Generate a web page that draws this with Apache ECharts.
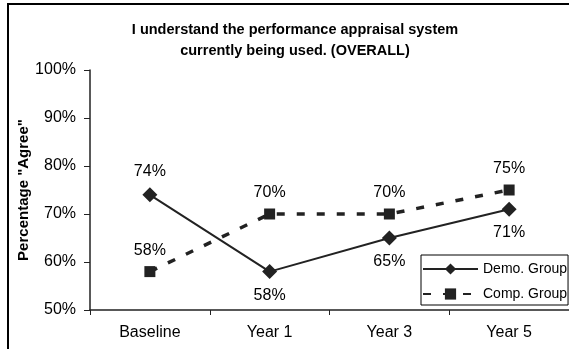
<!DOCTYPE html>
<html>
<head>
<meta charset="utf-8">
<script src="https://cdn.jsdelivr.net/npm/echarts@6/dist/echarts.min.js"></script>
<style>
  html, body { margin: 0; padding: 0; background: #fff; }
  #chart { width: 569px; height: 349px; }
</style>
</head>
<body>
<div id="chart"></div>
<script>
// Survey periods along the x axis
const periods = ['Baseline', 'Year 1', 'Year 3', 'Year 5'];
// Share answering "Agree", in percent
const demoGroup = [74, 58, 65, 71];
const compGroup = [58, 70, 70, 75];
// Y axis range and step, in percent
const yMin = 50, yMax = 100, yStep = 10;

// Which side of each point its value label sits on
const demoLabelSide = ['top', 'bottom', 'bottom', 'bottom'];
const compLabelSide = ['top', 'top', 'top', 'top'];

const FONT = '"Liberation Sans", Arial, sans-serif';
const INK = '#222';

function withLabels(values, sides) {
  return values.map((v, i) => ({ value: v, label: { position: sides[i] } }));
}

const chart = echarts.init(document.getElementById('chart'), null, { renderer: 'canvas' });

chart.setOption({
  animation: false,
  backgroundColor: '#fff',
  textStyle: { fontFamily: FONT },
  title: {
    text: 'I understand the performance appraisal system\ncurrently being used. (OVERALL)',
    left: 290,
    textAlign: 'center',
    top: 14,
    textStyle: { fontFamily: FONT, fontSize: 14.5, fontWeight: 'bold', color: '#000', lineHeight: 21 }
  },
  grid: { left: 90, top: 70, right: -1, bottom: 39, containLabel: false },
  legend: {
    left: 421,
    top: 255,
    orient: 'vertical',
    itemGap: 11,
    itemWidth: 55,
    itemHeight: 14,
    padding: [7, 1, 4, 1],
    borderColor: '#000',
    borderWidth: 1,
    backgroundColor: '#fff',
    textStyle: { fontFamily: FONT, fontSize: 14, color: '#000' },
    data: ['Demo. Group', 'Comp. Group']
  },
  xAxis: {
    type: 'category',
    data: periods,
    boundaryGap: true,
    axisLine: { lineStyle: { color: INK, width: 1.5 } },
    axisTick: { show: true, length: 5, inside: false, lineStyle: { color: INK } },
    axisLabel: { color: '#000', fontSize: 16, fontFamily: FONT, margin: 15 },
    splitLine: { show: false }
  },
  yAxis: {
    type: 'value',
    min: yMin,
    max: yMax,
    interval: yStep,
    name: 'Percentage "Agree"',
    nameLocation: 'middle',
    nameRotate: 90,
    nameGap: 59,
    nameMoveOverlap: false,
    nameTextStyle: { fontFamily: FONT, fontSize: 15, fontWeight: 'bold', color: '#000' },
    axisLine: { show: true, lineStyle: { color: INK, width: 1.5 } },
    axisTick: { show: true, length: 6, lineStyle: { color: INK } },
    axisLabel: { color: '#000', fontSize: 16, fontFamily: FONT, margin: 14, formatter: '{value}%' },
    splitLine: { show: false }
  },
  series: [
    {
      name: 'Demo. Group',
      type: 'line',
      data: withLabels(demoGroup, demoLabelSide),
      symbol: 'diamond',
      symbolSize: 15,
      lineStyle: { color: INK, width: 2 },
      itemStyle: { color: INK },
      label: { show: true, distance: 8, formatter: '{c}%', color: '#000', fontSize: 16, fontFamily: FONT },
      z: 3
    },
    {
      name: 'Comp. Group',
      type: 'line',
      data: withLabels(compGroup, compLabelSide),
      symbol: 'rect',
      symbolSize: 11,
      lineStyle: { color: INK, width: 3.5, type: [8, 12] },
      itemStyle: { color: INK },
      label: { show: true, distance: 8, formatter: '{c}%', color: '#000', fontSize: 16, fontFamily: FONT },
      z: 2
    }
  ],
  graphic: [
    {
      type: 'rect',
      shape: { x: 8, y: 4, width: 600, height: 400 },
      style: { fill: 'none', stroke: '#000', lineWidth: 2 },
      silent: true,
      z: 10
    }
  ]
});
</script>
</body>
</html>
